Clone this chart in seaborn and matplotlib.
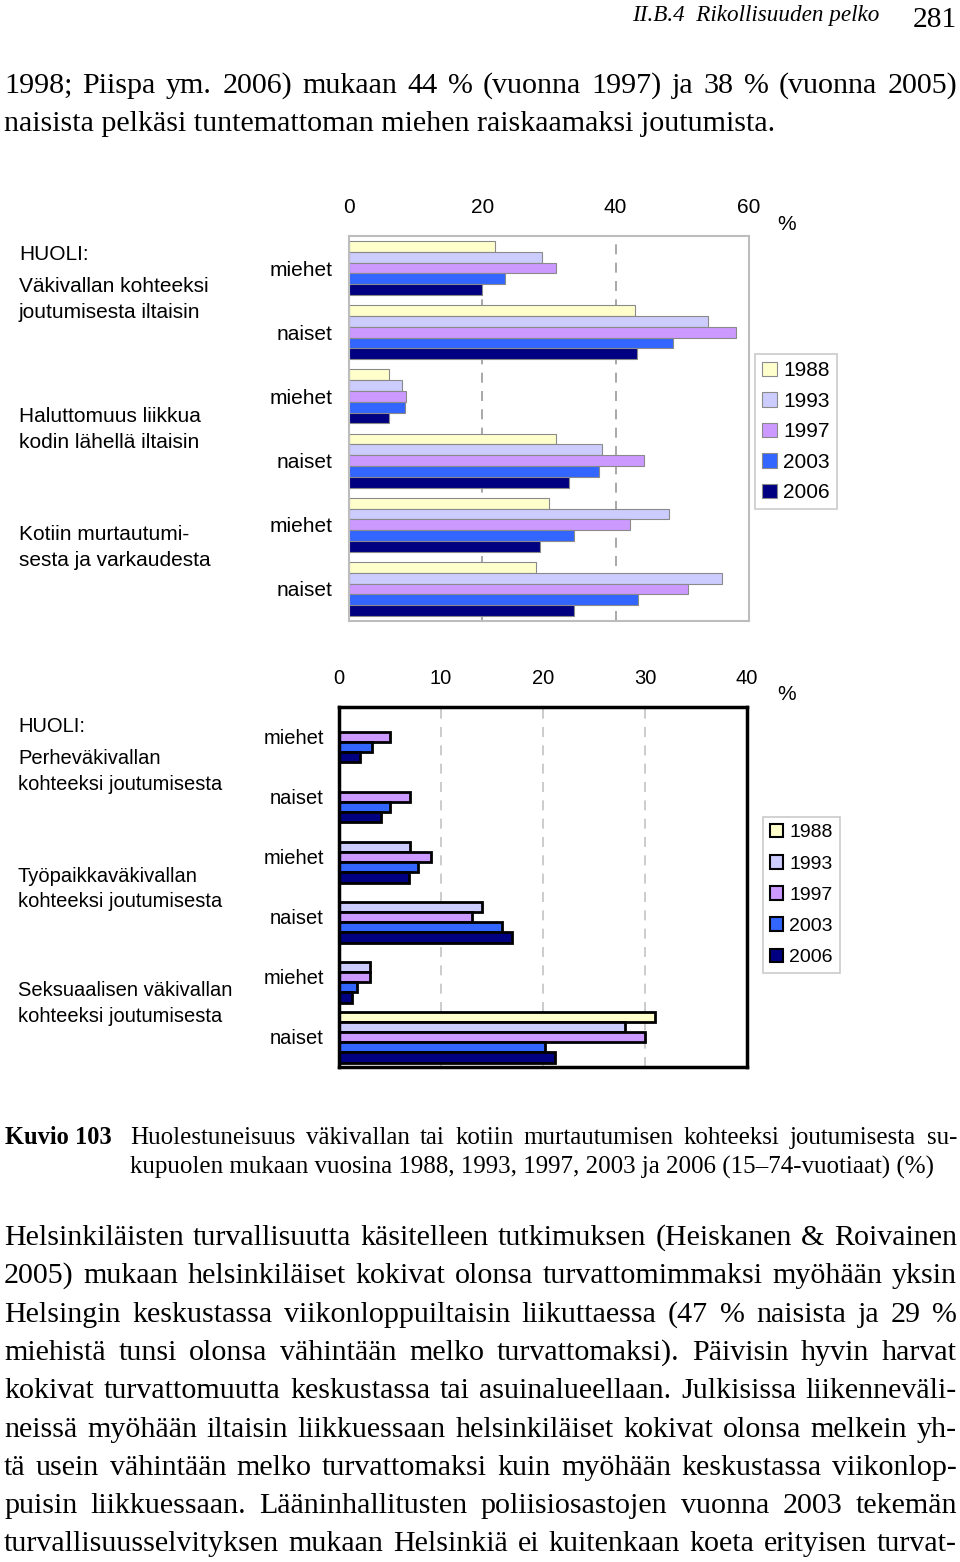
import numpy as np
import pandas as pd
import matplotlib
matplotlib.use("Agg")
import matplotlib.pyplot as plt
import seaborn as sns
from matplotlib.patches import Patch

nan = np.nan
years = ["1988", "1993", "1997", "2003", "2006"]
colors = ["#FFFFCC", "#CCCCFF", "#CC99FF", "#3366FF", "#000080"]
sex_labels = ["miehet", "naiset", "miehet", "naiset", "miehet", "naiset"]

top_groups = ["Vakivalta_m", "Vakivalta_n", "Haluttomuus_m", "Haluttomuus_n", "Murto_m", "Murto_n"]
top_1988 = [21.9, 42.9, 6.0, 31.0, 30.0, 28.0]
top_1993 = [29.0, 53.9, 8.0, 38.0, 48.0, 56.0]
top_1997 = [31.0, 58.0, 8.5, 44.2, 42.2, 50.8]
top_2003 = [23.4, 48.6, 8.4, 37.5, 33.8, 43.3]
top_2006 = [20.0, 43.2, 6.0, 33.0, 28.6, 33.7]

bot_groups = ["Perhe_m", "Perhe_n", "Tyopaikka_m", "Tyopaikka_n", "Seksuaalinen_m", "Seksuaalinen_n"]
bot_1988 = [nan, nan, nan, nan, nan, 31.0]
bot_1993 = [nan, nan, 7.0, 14.0, 3.0, 28.0]
bot_1997 = [5.0, 7.0, 9.0, 13.0, 3.0, 30.0]
bot_2003 = [3.2, 5.0, 7.7, 16.0, 1.8, 20.2]
bot_2006 = [2.1, 4.1, 6.9, 17.0, 1.3, 21.2]

top_ticks = [0, 20, 40, 60]
bot_ticks = [0, 10, 20, 30, 40]

top_titles = [("HUOLI:", 255), ("Väkivallan kohteeksi", 287), ("joutumisesta iltaisin", 313),
              ("Haluttomuus liikkua", 416), ("kodin lähellä iltaisin", 442),
              ("Kotiin murtautumi-", 535), ("sesta ja varkaudesta", 561)]
bot_titles = [("HUOLI:", 726), ("Perheväkivallan", 759), ("kohteeksi joutumisesta", 785),
              ("Työpaikkaväkivallan", 876), ("kohteeksi joutumisesta", 901),
              ("Seksuaalisen väkivallan", 991), ("kohteeksi joutumisesta", 1017)]


def long_df(groups, series):
    rows = []
    for yr, vals in zip(years, series):
        for g, v in zip(groups, vals):
            rows.append({"group": g, "year": yr, "value": v})
    return pd.DataFrame(rows).dropna()


df_top = long_df(top_groups, [top_1988, top_1993, top_1997, top_2003, top_2006])
df_bot = long_df(bot_groups, [bot_1988, bot_1993, bot_1997, bot_2003, bot_2006])

W, H = 960, 1562
fig = plt.figure(figsize=(W / 100, H / 100), dpi=100)
SANS = "Liberation Sans"
SERIF = "Liberation Serif"


def fx(x):
    return x / W


def fy(y):
    return 1 - y / H


# ---------------- top chart ----------------
ax1 = fig.add_axes([fx(349), fy(621), 400 / W, 385 / H])
sns.barplot(data=df_top, x="value", y="group", hue="year", order=top_groups, hue_order=years,
            palette=colors, orient="h", width=0.84, errorbar=None, saturation=1,
            edgecolor="#8a8a8a", linewidth=0.8, legend=False, ax=ax1)
ax1.set_xlim(0, 60)
ax1.set_ylim(5.5, -0.5)
ax1.set_xticks(top_ticks)
ax1.set_xticklabels([str(t) for t in top_ticks])
ax1.xaxis.tick_top()
ax1.set_yticks(range(6))
ax1.set_yticklabels(sex_labels)
ax1.set_xlabel("")
ax1.set_ylabel("")
ax1.tick_params(axis="x", length=0, pad=13.5, labelsize=15)
ax1.tick_params(axis="y", length=0, pad=12, labelsize=15)
for lab in ax1.get_xticklabels() + ax1.get_yticklabels():
    lab.set_family(SANS)
ax1.set_axisbelow(True)
ax1.grid(axis="x", linestyle=(0, (6, 5)), color="#9a9a9a", linewidth=1.2)
for s in ax1.spines.values():
    s.set_color("#bdbdbd")
    s.set_linewidth(1.5)

# ---------------- bottom chart ----------------
ax2 = fig.add_axes([fx(339), fy(1067), 408 / W, 360 / H])
sns.barplot(data=df_bot, x="value", y="group", hue="year", order=bot_groups, hue_order=years,
            palette=colors, orient="h", width=0.85, errorbar=None, saturation=1,
            edgecolor="black", linewidth=2, legend=False, ax=ax2)
ax2.set_xlim(0, 40)
ax2.set_ylim(5.5, -0.5)
ax2.set_xticks(bot_ticks)
ax2.set_xticklabels([str(t) for t in bot_ticks])
ax2.xaxis.tick_top()
ax2.set_yticks(range(6))
ax2.set_yticklabels(sex_labels)
ax2.set_xlabel("")
ax2.set_ylabel("")
ax2.tick_params(axis="x", length=0, pad=13.5, labelsize=14.5)
ax2.tick_params(axis="y", length=0, pad=11, labelsize=14.5)
for lab in ax2.get_xticklabels() + ax2.get_yticklabels():
    lab.set_family(SANS)
ax2.set_axisbelow(True)
ax2.grid(axis="x", linestyle=(0, (6, 5)), color="#c4c4c4", linewidth=1.2)
for s in ax2.spines.values():
    s.set_color("black")
    s.set_linewidth(2.5)

# legends
h1 = [Patch(facecolor=c, edgecolor="#8a8a8a", linewidth=0.8) for c in colors]
leg1 = fig.legend(h1, years, loc="upper left", bbox_to_anchor=(fx(755), fy(354)),
                  bbox_transform=fig.transFigure, frameon=True, fancybox=False,
                  prop={"family": SANS, "size": 15}, handlelength=0.7, handleheight=0.7,
                  handletextpad=0.3, labelspacing=0.55, borderpad=0.35, borderaxespad=0)
leg1.get_frame().set_edgecolor("#bdbdbd")
leg1.get_frame().set_linewidth(1.2)

h2 = [Patch(facecolor=c, edgecolor="black", linewidth=1.5) for c in colors]
leg2 = fig.legend(h2, years, loc="upper left", bbox_to_anchor=(fx(763), fy(817)),
                  bbox_transform=fig.transFigure, frameon=True, fancybox=False,
                  prop={"family": SANS, "size": 14}, handlelength=0.7, handleheight=0.7,
                  handletextpad=0.3, labelspacing=0.7, borderpad=0.35, borderaxespad=0)
leg2.get_frame().set_edgecolor("#bdbdbd")
leg2.get_frame().set_linewidth(1.2)

fig.text(fx(787), fy(225), "%", fontsize=15, family=SANS, ha="center", va="center")
fig.text(fx(787), fy(694), "%", fontsize=15, family=SANS, ha="center", va="center")

for t, y in top_titles:
    fig.text(fx(19), fy(y), t, fontsize=15, family=SANS, ha="left", va="center")
for t, y in bot_titles:
    fig.text(fx(18), fy(y), t, fontsize=14.5, family=SANS, ha="left", va="center")

# ---------------- page text ----------------
R = fig.canvas.get_renderer()


def text_width(s, size, **kw):
    t = fig.text(0, 0, s, fontsize=size, **kw)
    w = t.get_window_extent(renderer=R).width
    t.remove()
    return w


def fit_size(s, target, **kw):
    return 20 * target / text_width(s, 20, **kw)


def place(s, x0, y, size, x1=None, **kw):
    if x1 is None:
        fig.text(fx(x0), fy(y), s, fontsize=size, ha="left", va="baseline", **kw)
        return
    words = s.split(" ")
    objs = [fig.text(0, 0, w, fontsize=size, ha="left", va="baseline", **kw) for w in words]
    ws = [o.get_window_extent(renderer=R).width for o in objs]
    gap = (x1 - x0 - sum(ws)) / max(len(words) - 1, 1)
    x = x0
    for o, w in zip(objs, ws):
        o.set_position((fx(x), fy(y)))
        x += w + gap


# header
hs = fit_size("II.B.4  Rikollisuuden pelko", 248, family=SERIF, style="italic")
place("II.B.4  Rikollisuuden pelko", 632, 21, hs, family=SERIF, style="italic")
ps = fit_size("281", 44, family=SERIF)
place("281", 913, 27, ps, family=SERIF)

body_ref = "naisista pelkäsi tuntemattoman miehen raiskaamaksi joutumista."
bs = fit_size(body_ref, 774, family=SERIF)
place("1998; Piispa ym. 2006) mukaan 44 % (vuonna 1997) ja 38 % (vuonna 2005)", 4, 93, bs, x1=957, family=SERIF)
place(body_ref, 4, 131, bs, family=SERIF)

cap2 = "kupuolen mukaan vuosina 1988, 1993, 1997, 2003 ja 2006 (15–74-vuotiaat) (%)"
cs = fit_size(cap2, 806, family=SERIF)
ks = fit_size("Kuvio 103", 107, family=SERIF, weight="bold")
place("Kuvio 103", 5, 1144, ks, family=SERIF, weight="bold")
place("Huolestuneisuus väkivallan tai kotiin murtautumisen kohteeksi joutumisesta su-", 130, 1144, cs,
      x1=957, family=SERIF)
place(cap2, 130, 1174, cs, family=SERIF)

para = [
    "Helsinkiläisten turvallisuutta käsitelleen tutkimuksen (Heiskanen & Roivainen",
    "2005) mukaan helsinkiläiset kokivat olonsa turvattomimmaksi myöhään yksin",
    "Helsingin keskustassa viikonloppuiltaisin liikuttaessa (47 % naisista ja 29 %",
    "miehistä tunsi olonsa vähintään melko turvattomaksi). Päivisin hyvin harvat",
    "kokivat turvattomuutta keskustassa tai asuinalueellaan. Julkisissa liikenneväli-",
    "neissä myöhään iltaisin liikkuessaan helsinkiläiset kokivat olonsa melkein yh-",
    "tä usein vähintään melko turvattomaksi kuin myöhään keskustassa viikonlop-",
    "puisin liikkuessaan. Lääninhallitusten poliisiosastojen vuonna 2003 tekemän",
    "turvallisuusselvityksen mukaan Helsinkiä ei kuitenkaan koeta erityisen turvat-",
]
para_y = [1245, 1283, 1322, 1360, 1398, 1437, 1475, 1513, 1551]
for s, y in zip(para, para_y):
    place(s, 4, y, bs, x1=957, family=SERIF)

fig.savefig("out.png", dpi=100, facecolor="white")
